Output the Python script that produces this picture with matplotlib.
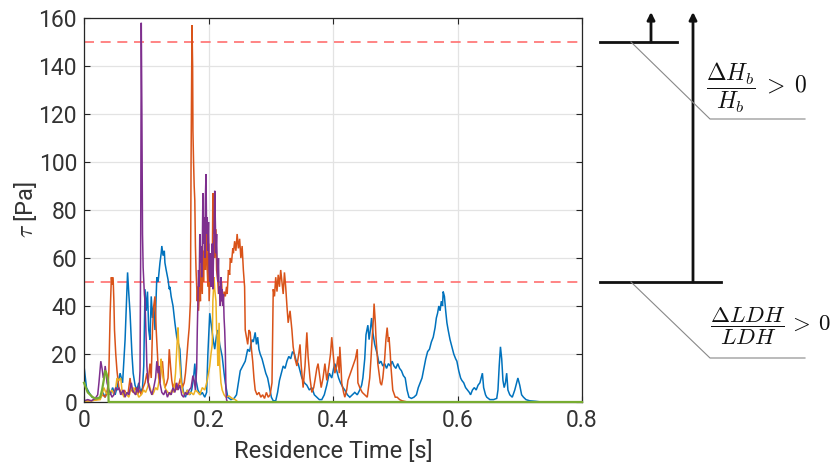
import matplotlib
matplotlib.use("Agg")
import matplotlib.pyplot as plt
from matplotlib.lines import Line2D
from matplotlib.patches import FancyArrowPatch

plt.rcParams['font.family'] = ['Roboto', 'DejaVu Sans']
plt.rcParams['mathtext.fontset'] = 'cm'

# ---------------- data (time [s], tau [Pa]) ----------------
blue_t = [0.000, 0.004, 0.008, 0.013, 0.020, 0.026, 0.030, 0.034, 0.038, 0.042, 0.046, 0.050, 0.054, 0.058, 0.062,
          0.066, 0.068, 0.070, 0.072, 0.074, 0.077, 0.079, 0.082, 0.085, 0.088, 0.091, 0.094, 0.096, 0.098, 0.100,
          0.102, 0.104, 0.106, 0.108, 0.110, 0.112, 0.114, 0.116, 0.117, 0.119, 0.122, 0.124, 0.125, 0.127, 0.129,
          0.130, 0.132, 0.135, 0.137, 0.138, 0.140, 0.143, 0.146, 0.149, 0.152, 0.154, 0.157, 0.160, 0.163, 0.166,
          0.170, 0.173, 0.176, 0.178, 0.180, 0.183, 0.187, 0.190, 0.194, 0.197, 0.199, 0.201, 0.202, 0.204, 0.207,
          0.210, 0.213, 0.215, 0.218, 0.222, 0.225, 0.227, 0.231, 0.236, 0.241, 0.245, 0.248, 0.251, 0.255, 0.259,
          0.263, 0.266, 0.268, 0.270, 0.272, 0.275, 0.277, 0.279, 0.281, 0.283, 0.286, 0.289, 0.292, 0.295, 0.298,
          0.301, 0.304, 0.308, 0.311, 0.314, 0.317, 0.320, 0.323, 0.326, 0.329, 0.332, 0.335, 0.338, 0.341, 0.344,
          0.347, 0.350, 0.354, 0.358, 0.362, 0.366, 0.370, 0.374, 0.378, 0.382, 0.386, 0.390, 0.394, 0.398, 0.401,
          0.403, 0.406, 0.409, 0.412, 0.416, 0.419, 0.423, 0.427, 0.431, 0.435, 0.439, 0.443, 0.446, 0.448, 0.451,
          0.453, 0.456, 0.458, 0.460, 0.462, 0.464, 0.467, 0.469, 0.471, 0.474, 0.477, 0.480, 0.483, 0.486, 0.489,
          0.492, 0.495, 0.498, 0.501, 0.504, 0.507, 0.510, 0.513, 0.516, 0.519, 0.522, 0.526, 0.530, 0.534, 0.537,
          0.540, 0.543, 0.546, 0.549, 0.552, 0.555, 0.558, 0.561, 0.564, 0.566, 0.568, 0.570, 0.572, 0.574, 0.576,
          0.577, 0.579, 0.581, 0.583, 0.585, 0.588, 0.591, 0.594, 0.597, 0.599, 0.602, 0.605, 0.607, 0.610, 0.613,
          0.616, 0.619, 0.621, 0.624, 0.627, 0.630, 0.633, 0.636, 0.638, 0.640, 0.642, 0.645, 0.647, 0.652, 0.658,
          0.663, 0.665, 0.667, 0.669, 0.671, 0.673, 0.675, 0.677, 0.679, 0.681, 0.684, 0.688, 0.692, 0.695, 0.697,
          0.700, 0.703, 0.706, 0.710, 0.716, 0.725, 0.735]
blue_v = [15, 6, 4, 2, 1.5, 2, 4, 2, 5, 3, 6, 3, 7, 12, 8,
          26, 40, 54, 45, 37, 20, 12, 7, 5, 8, 4, 6, 15, 47, 38,
          46, 30, 26, 44, 35, 40, 30, 45, 52, 50, 58, 62, 65, 61, 63,
          58, 55, 51, 47, 48, 44, 40, 33, 27, 24, 22, 8, 4, 2, 5,
          3, 5, 10, 16, 9, 5, 3, 4, 2, 4, 20, 32, 37, 33, 27,
          22, 28, 30, 24, 19, 12, 8, 2, 1, 1.5, 3, 8, 13, 15, 17,
          22, 21, 24, 26, 25, 29, 24, 27, 22, 20, 18, 15, 12, 10, 6,
          2, 0.5, 0.5, 4, 9, 12, 15, 14, 17, 19, 18, 21, 20, 17, 16,
          13, 10, 8, 7, 5, 6, 3, 2, 1, 1, 3, 7, 12, 10, 14,
          16, 13, 10, 8, 6, 5, 3, 2, 3, 4, 3, 5, 7, 10, 18,
          28, 32, 26, 30, 35, 29, 24, 22, 20, 16, 17, 15, 16, 14, 16,
          15, 17, 15, 14, 16, 14, 13, 11, 10, 5, 2, 1.5, 2, 3, 6,
          8, 10, 14, 18, 21, 22, 25, 27, 31, 35, 37, 40, 38, 42, 40,
          46, 44, 38, 33, 30, 26, 23, 20, 18, 17, 13, 10, 9, 8, 6,
          5, 4, 3, 5, 6, 5, 7, 8, 10, 12, 6, 3, 2, 1, 1,
          1.5, 5, 15, 23, 18, 9, 6, 8, 12, 5, 3, 2, 5, 8, 10,
          7, 3, 2, 1, 0.5, 0.3, 0]

orange_t = [0.000, 0.012, 0.020, 0.026, 0.030, 0.034, 0.037, 0.039, 0.040, 0.041, 0.042, 0.043, 0.044, 0.045, 0.046,
            0.047, 0.048, 0.049, 0.051, 0.053, 0.056, 0.059, 0.062, 0.065, 0.068, 0.071, 0.074, 0.076, 0.079, 0.083,
            0.086, 0.089, 0.092, 0.095, 0.098, 0.101, 0.103, 0.106, 0.108, 0.110, 0.112, 0.114, 0.116, 0.118, 0.120,
            0.122, 0.124, 0.126, 0.128, 0.130, 0.133, 0.135, 0.137, 0.139, 0.141, 0.143, 0.146, 0.149, 0.152, 0.155,
            0.158, 0.161, 0.163, 0.165, 0.167, 0.169, 0.171, 0.172, 0.1735, 0.1745, 0.175, 0.176, 0.177, 0.178, 0.179,
            0.180, 0.182, 0.183, 0.184, 0.186, 0.187, 0.188, 0.190, 0.191, 0.192, 0.194, 0.195, 0.196, 0.197, 0.199,
            0.200, 0.201, 0.203, 0.204, 0.206, 0.207, 0.208, 0.209, 0.210, 0.212, 0.213, 0.215, 0.216, 0.218, 0.219,
            0.221, 0.223, 0.225, 0.227, 0.229, 0.230, 0.232, 0.234, 0.235, 0.237, 0.239, 0.240, 0.242, 0.244, 0.246,
            0.248, 0.250, 0.252, 0.254, 0.256, 0.258, 0.259, 0.261, 0.263, 0.265, 0.267, 0.269, 0.271, 0.273, 0.275,
            0.278, 0.281, 0.284, 0.287, 0.290, 0.293, 0.296, 0.299, 0.302, 0.304, 0.306, 0.308, 0.310, 0.312, 0.314,
            0.316, 0.318, 0.320, 0.322, 0.324, 0.326, 0.328, 0.331, 0.334, 0.336, 0.339, 0.342, 0.345, 0.347, 0.349,
            0.352, 0.355, 0.358, 0.360, 0.363, 0.366, 0.369, 0.371, 0.374, 0.376, 0.379, 0.381, 0.384, 0.387, 0.390,
            0.393, 0.396, 0.398, 0.401, 0.403, 0.406, 0.408, 0.410, 0.411, 0.413, 0.414, 0.417, 0.419, 0.422, 0.424,
            0.428, 0.432, 0.436, 0.439, 0.440, 0.443, 0.447, 0.451, 0.455, 0.459, 0.461, 0.463, 0.465, 0.466, 0.468,
            0.469, 0.471, 0.472, 0.474, 0.476, 0.478, 0.480, 0.483, 0.485, 0.487, 0.489, 0.490, 0.492, 0.493, 0.495,
            0.496, 0.500, 0.503, 0.507, 0.511, 0.520]
orange_v = [0.5, 0.5, 1, 2, 3, 2, 4, 8, 13, 25, 37, 45, 52, 49, 52,
            50, 42, 30, 20, 13, 6, 4, 3, 5, 3, 4, 10, 5, 4, 6,
            3, 5, 3, 6, 8, 12, 8, 16, 10, 30, 40, 44, 30, 20, 10,
            8, 14, 17, 10, 6, 8, 10, 22, 15, 9, 6, 8, 5, 7, 10,
            6, 8, 12, 18, 25, 31, 42, 100, 157, 140, 113, 100, 90, 84, 65,
            55, 42, 48, 38, 50, 42, 58, 45, 63, 50, 72, 55, 80, 62, 48,
            66, 42, 56, 62, 52, 87, 70, 80, 60, 72, 55, 50, 45, 48, 44,
            50, 40, 46, 44, 48, 45, 55, 53, 60, 58, 64, 62, 67, 63, 70,
            64, 68, 60, 65, 55, 48, 30, 27, 24, 30, 29, 22, 17, 10, 5,
            3, 4, 2, 3, 1.5, 4, 2, 3, 8, 47, 44, 52, 46, 53, 48,
            55, 50, 45, 54, 48, 40, 33, 38, 30, 23, 18, 15, 20, 24, 15,
            6, 15, 29, 19, 10, 4, 6, 9, 14, 16, 10, 6, 10, 16, 9,
            14, 20, 27, 18, 12, 15, 19, 12, 23, 14, 8, 4, 2, 5, 9,
            12, 15, 18, 22, 8, 6, 4, 3, 2, 10, 18, 27, 35, 41, 33,
            27, 20, 16, 12, 8, 7, 10, 18, 26, 31, 25, 27, 20, 15, 8,
            5, 2, 2, 1, 0.5, 0]

yellow_t = [0.000, 0.010, 0.020, 0.026, 0.029, 0.032, 0.035, 0.039, 0.042, 0.045, 0.048, 0.051, 0.053, 0.056, 0.059,
            0.061, 0.064, 0.067, 0.069, 0.072, 0.076, 0.078, 0.080, 0.083, 0.085, 0.088, 0.092, 0.096, 0.099, 0.102,
            0.104, 0.107, 0.110, 0.112, 0.115, 0.118, 0.120, 0.122, 0.124, 0.125, 0.127, 0.130, 0.132, 0.135, 0.138,
            0.141, 0.144, 0.147, 0.149, 0.151, 0.152, 0.153, 0.155, 0.156, 0.159, 0.162, 0.166, 0.169, 0.172, 0.176,
            0.179, 0.183, 0.186, 0.190, 0.194, 0.198, 0.200, 0.202, 0.204, 0.206, 0.207, 0.209, 0.210, 0.212, 0.213,
            0.214, 0.215, 0.217, 0.218, 0.220, 0.222, 0.225, 0.228, 0.233, 0.238, 0.243, 0.246]
yellow_v = [0.3, 0.5, 0.8, 1, 3, 6, 4, 3, 4, 5, 3, 6, 10, 9, 10,
            5, 2, 4, 3, 2, 6, 5, 6, 3, 4, 2, 3, 5, 4, 6,
            8, 5, 3, 4, 6, 5, 8, 12, 18, 14, 10, 6, 5, 4, 3,
            5, 4, 12, 22, 31, 25, 19, 12, 8, 4, 3, 5, 3, 4, 3,
            5, 4, 3, 6, 5, 9, 12, 15, 20, 24, 42, 52, 47, 42, 30,
            27, 15, 33, 16, 8, 5, 3, 2, 2.5, 1.5, 1, 0.3]

purple_t = [0.000, 0.006, 0.012, 0.018, 0.022, 0.024, 0.027, 0.029, 0.031, 0.033, 0.034, 0.036, 0.037, 0.040, 0.042,
            0.045, 0.048, 0.051, 0.054, 0.056, 0.059, 0.063, 0.066, 0.069, 0.072, 0.076, 0.078, 0.080, 0.083, 0.085,
            0.087, 0.089, 0.090, 0.091, 0.092, 0.093, 0.094, 0.095, 0.097, 0.098, 0.100, 0.101, 0.103, 0.106, 0.109,
            0.112, 0.115, 0.117, 0.119, 0.121, 0.122, 0.125, 0.128, 0.131, 0.134, 0.137, 0.140, 0.143, 0.146, 0.149,
            0.151, 0.154, 0.157, 0.160, 0.163, 0.166, 0.169, 0.172, 0.175, 0.177, 0.179, 0.181, 0.182, 0.183, 0.184,
            0.185, 0.186, 0.187, 0.188, 0.189, 0.190, 0.191, 0.192, 0.193, 0.194, 0.195, 0.196, 0.197, 0.198, 0.199,
            0.200, 0.201, 0.202, 0.203, 0.204, 0.205, 0.206, 0.207, 0.208, 0.209, 0.210, 0.211, 0.212, 0.213, 0.214,
            0.215, 0.216, 0.217, 0.218, 0.219, 0.220, 0.221, 0.222, 0.223, 0.224, 0.225, 0.226, 0.227, 0.228, 0.229,
            0.230]
purple_v = [0.5, 1, 0.5, 1.5, 3, 8, 17, 14, 10, 12, 15, 11, 8, 5, 4,
            2, 3, 6, 5, 6, 3, 5, 2, 4, 3, 8, 5, 4, 3, 6,
            4, 8, 13, 60, 158, 120, 70, 56, 45, 42, 25, 15, 8, 5, 3,
            6, 10, 17, 12, 15, 8, 4, 3, 5, 2, 4, 3, 6, 4, 8,
            5, 7, 3, 2, 4, 3, 5, 6, 11, 9, 5, 14, 30, 42, 55,
            48, 70, 58, 65, 52, 63, 87, 66, 77, 60, 85, 95, 70, 77, 63,
            75, 55, 50, 62, 48, 58, 66, 47, 60, 72, 88, 75, 62, 70, 56,
            50, 60, 45, 48, 40, 52, 42, 47, 40, 45, 35, 30, 22, 5, 1,
            0.3]

green_t = [0.000, 0.003, 0.006, 0.010, 0.014, 0.018, 0.022, 0.026, 0.029, 0.031, 0.033, 0.034, 0.036, 0.038, 0.039,
           0.0395, 0.800]
green_v = [8, 6, 4, 3, 2, 1.5, 1.5, 2, 5, 8, 11, 13, 12, 10, 8,
           0, 0]

thresholds = [50, 150]
x_ticks = [0, 0.2, 0.4, 0.6, 0.8]
x_ticklabels = ['0', '0.2', '0.4', '0.6', '0.8']
y_ticks = [0, 20, 40, 60, 80, 100, 120, 140, 160]

# ---------------- figure ----------------
W, H = 833, 467
fig = plt.figure(figsize=(W / 100, H / 100), dpi=100)
ax = fig.add_axes([84 / W, 65 / H, 498 / W, 384 / H])

series = [(blue_t, blue_v, '#0072BD'), (orange_t, orange_v, '#D95319'),
          (yellow_t, yellow_v, '#EDB120'), (purple_t, purple_v, '#7E2F8E')]
for t, v, c in series:
    ax.plot(t, v, color=c, lw=1.1, solid_joinstyle='miter')
ax.plot(green_t, green_v, color='#77AC30', lw=1.6, clip_on=False, zorder=5)

for th in thresholds:
    ax.axhline(th, color='#ff7070', lw=1.2, ls=(0, (6, 4)), zorder=1.5)

ax.set_xlim(0, 0.8)
ax.set_ylim(0, 160)
ax.set_xticks(x_ticks)
ax.set_xticklabels(x_ticklabels)
ax.set_yticks(y_ticks)
ax.grid(True, color='#e3e3e3', lw=0.9)
ax.set_axisbelow(True)
for s in ax.spines.values():
    s.set_color('#262626')
    s.set_linewidth(0.9)
ax.tick_params(direction='in', top=True, right=True, length=4, width=0.8,
               labelsize=16.5, colors='#262626', labelcolor='#333333', pad=5)
ax.set_xlabel('Residence Time [s]', fontsize=17, color='#333333', labelpad=6)
ax.set_ylabel(r'$\tau$ [Pa]', fontsize=17, color='#333333', labelpad=0)


# ---------------- right-side annotation ----------------
def P(px, py):
    return (px / W, 1 - py / H)


dark = '#111111'
for (x0, y0), (x1, y1) in [((600, 42), (677, 42)), ((600, 282), (721, 282))]:
    fig.add_artist(Line2D([P(x0, y0)[0], P(x1, y1)[0]], [P(x0, y0)[1], P(x1, y1)[1]],
                          transform=fig.transFigure, color=dark, lw=2.0))
for pts in [[(631, 42), (710, 119), (805, 119)], [(631, 282), (710, 358), (805, 358)]]:
    xs = [P(*p)[0] for p in pts]
    ys = [P(*p)[1] for p in pts]
    fig.add_artist(Line2D(xs, ys, transform=fig.transFigure, color='#888888', lw=0.8))
for (x0, y0, x1, y1) in [(651, 42, 651, 12), (693, 282, 693, 12)]:
    fig.add_artist(FancyArrowPatch(P(x0, y0), P(x1, y1), transform=fig.transFigure,
                                   arrowstyle='-|>', mutation_scale=11, lw=2.0, color=dark,
                                   shrinkA=0, shrinkB=0))

fig.text(*P(757, 88), r'$\dfrac{\Delta H_b}{H_b}\;>\;0$', ha='center', va='center',
         fontsize=17, color='#111111')
fig.text(*P(831, 326), r'$\dfrac{\Delta LDH}{LDH}\,>\,0$', ha='right', va='center',
         fontsize=16.5, color='#111111')

fig.savefig('out.png', dpi=100)
